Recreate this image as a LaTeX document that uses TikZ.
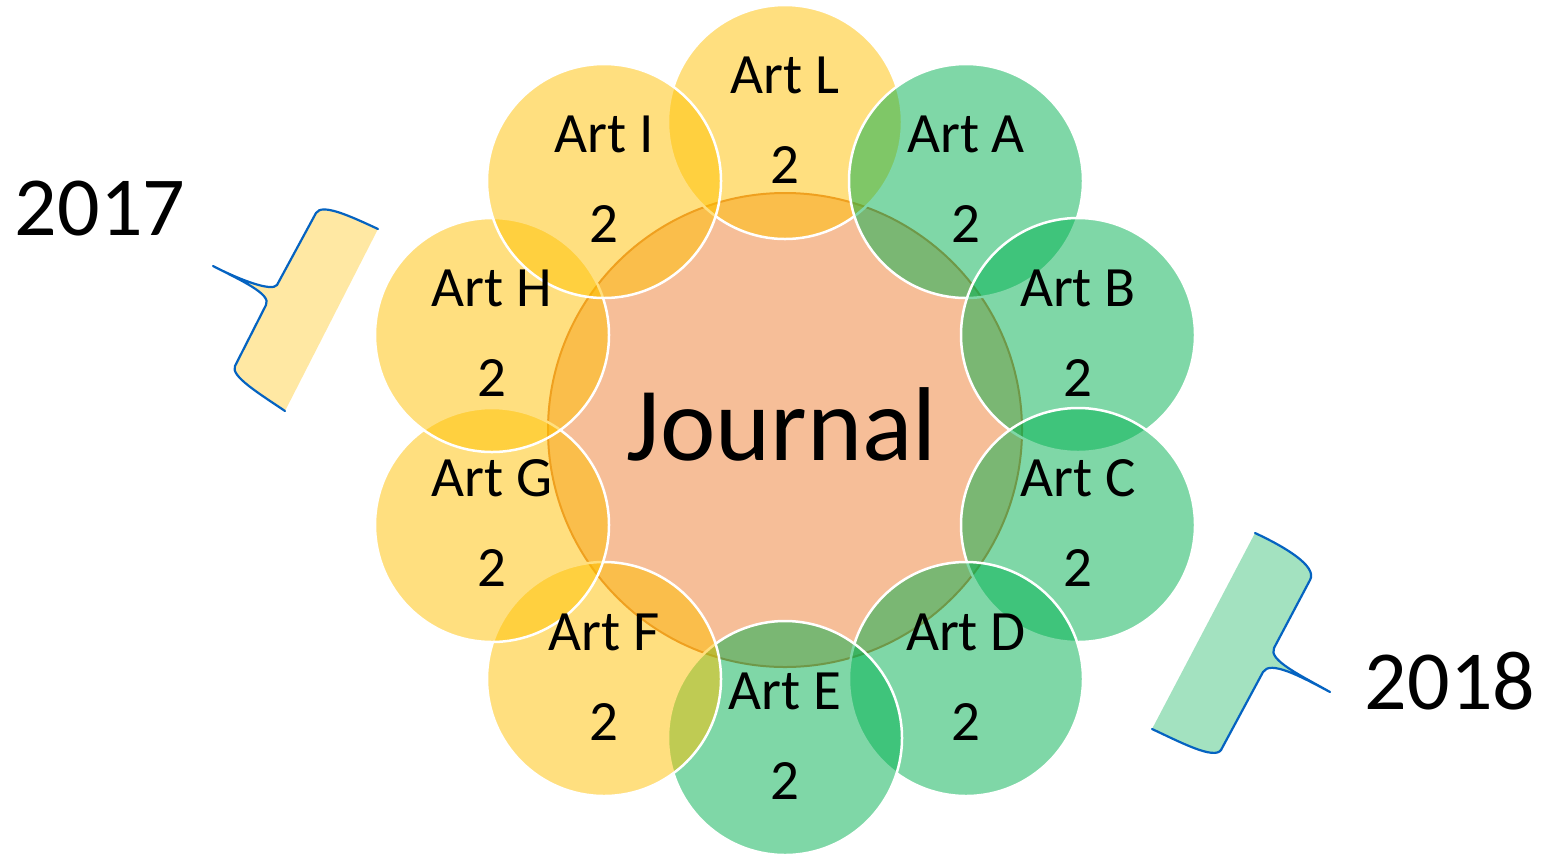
\documentclass[tikz,border=0pt]{standalone}
\usepackage{fontspec}
\setmainfont{Carlito}
\definecolor{yel}{HTML}{FFC000}
\definecolor{grn}{HTML}{00B050}
\definecolor{org}{HTML}{ED7D31}
\definecolor{orgline}{HTML}{E08040}
\definecolor{blu}{HTML}{0563C1}
\begin{document}
\begin{tikzpicture}[x=1pt,y=-1pt,
  sat/.style={circle, minimum size=234pt, inner sep=0pt, draw=white, line width=2.5pt, fill opacity=0.5},
  ysat/.style={sat, fill=yel},
  gsat/.style={sat, fill=grn},
  artlbl/.style={inner sep=0pt, anchor=base, font=\fontsize{57}{60}\selectfont},
  yearlbl/.style={inner sep=0pt, anchor=base, font=\fontsize{84}{88}\selectfont},
  braceline/.style={draw=blu, line width=2.2pt, line join=round, line cap=round}]
\useasboundingbox (0,0) rectangle (1544,855);

% central circle
\node[circle, minimum size=474pt, inner sep=0pt, fill=org, fill opacity=0.5, draw=orgline, line width=2pt] (journal) at (785,430) {};

% satellites
\node[ysat] (artL) at (785,122) {};
\node[gsat] (artA) at (966,181) {};
\node[gsat] (artB) at (1078,335) {};
\node[gsat] (artC) at (1078,525) {};
\node[gsat] (artD) at (966,679) {};
\node[gsat] (artE) at (785,738) {};
\node[ysat] (artF) at (604,679) {};
\node[ysat] (artG) at (492,525) {};
\node[ysat] (artH) at (492,335) {};
\node[ysat] (artI) at (604,181) {};

% 2017 brace callout
\fill[yel!36] (378,229) .. controls (350,216) and (322,203) .. (316,213)
  -- (277,285) .. controls (272,292) and (240,280) .. (213,266)
  .. controls (240,280) and (272,294) .. (266,305)
  -- (235,366) .. controls (230,376) and (260,394) .. (285,411) -- cycle;
\draw[braceline] (378,229) .. controls (350,216) and (322,203) .. (316,213)
  -- (277,285) .. controls (272,292) and (240,280) .. (213,266)
  .. controls (240,280) and (272,294) .. (266,305)
  -- (235,366) .. controls (230,376) and (260,394) .. (285,411);

% 2018 brace callout
\fill[grn!36] (1255,533) .. controls (1283,546) and (1318,566) .. (1310,580)
  -- (1274,648) .. controls (1268,660) and (1300,675) .. (1330,692)
  .. controls (1300,676) and (1270,660) .. (1263,672)
  -- (1221,750) .. controls (1214,760) and (1180,742) .. (1152,729) -- cycle;
\draw[braceline] (1255,533) .. controls (1283,546) and (1318,566) .. (1310,580)
  -- (1274,648) .. controls (1268,660) and (1300,675) .. (1330,692)
  .. controls (1300,676) and (1270,660) .. (1263,672)
  -- (1221,750) .. controls (1214,760) and (1180,742) .. (1152,729);

% texts
\node[inner sep=0pt, anchor=base, font=\fontsize{105}{110}\selectfont] (journaltxt) at (782,460) {Journal};
\node[yearlbl] (y2017) at (100,235) {2017};
\node[yearlbl] (y2018) at (1450,709) {2018};

\foreach \n/\t in {artL/Art L, artA/Art A, artB/Art B, artC/Art C, artD/Art D, artE/Art E, artF/Art F, artG/Art G, artH/Art H, artI/Art I}{
  \node[artlbl] (\n-name) at ([yshift=29pt]\n.center) {\t};
  \node[artlbl] (\n-num) at ([yshift=-61pt]\n.center) {2};
}
\end{tikzpicture}
\end{document}
